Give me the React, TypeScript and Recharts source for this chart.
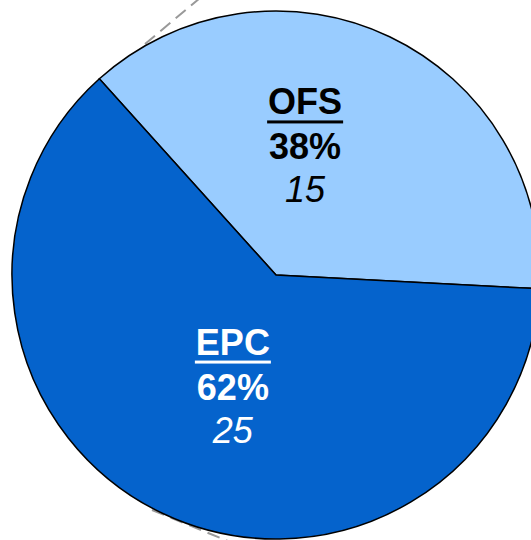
import { PieChart, Pie, Cell } from "recharts";

const segments = ["OFS", "EPC"];
const counts = [15, 25];
const shares = ["38%", "62%"];

const fills = ["#99CCFF", "#0563CC"];
const textColors = ["#000000", "#FFFFFF"];

const data = segments.map((name, i) => ({
  name,
  value: counts[i],
  share: shares[i],
}));

const CX = 276;
const CY = 275;
const R = 264;

// small nudges so labels sit where the original placed them
const nudge: Record<string, [number, number]> = {
  OFS: [-26, 0],
  EPC: [12, 9],
};

function SliceLabel(props: any) {
  const { cx, cy, midAngle, outerRadius, index } = props;
  const d = data[index];
  const rad = (Math.PI / 180) * midAngle;
  const r = outerRadius * 0.485;
  const [nx, ny] = nudge[d.name] ?? [0, 0];
  const x = cx + r * Math.cos(rad) + nx;
  const y = cy - r * Math.sin(rad) + ny;
  const color = textColors[index];
  return (
    <g>
      <text
        x={x}
        y={y}
        textAnchor="middle"
        fill={color}
        fontFamily="'Liberation Sans', Arial, sans-serif"
        fontSize={36}
      >
        <tspan x={x} dy={-45} fontWeight="bold">
          {d.name}
        </tspan>
        <tspan x={x} dy={45} fontWeight="bold">
          {d.share}
        </tspan>
        <tspan x={x} dy={43} fontStyle="italic">
          {d.value}
        </tspan>
      </text>
      <rect x={x - 38} y={y - 39} width={76} height={3} fill={color} />
    </g>
  );
}

export default function App() {
  return (
    <div
      style={{
        position: "fixed",
        left: 0,
        top: 0,
        width: 531,
        height: 540,
        overflow: "hidden",
        background: "#fff",
      }}
    >
      <svg
        width={531}
        height={540}
        style={{ position: "absolute", left: 0, top: 0 }}
      >
        <line
          x1={145}
          y1={44}
          x2={206}
          y2={-7}
          stroke="#999"
          strokeWidth={2}
          strokeDasharray="13 7"
        />
        <line
          x1={152}
          y1={510}
          x2={240}
          y2={546}
          stroke="#999"
          strokeWidth={2}
          strokeDasharray="13 7"
        />
      </svg>
      <div style={{ position: "absolute", left: 0, top: 0 }}>
        <PieChart width={531} height={540} margin={{ top: 0, right: 0, bottom: 0, left: 0 }}>
          <Pie
            data={data}
            dataKey="value"
            nameKey="name"
            cx={CX}
            cy={CY}
            outerRadius={R}
            startAngle={132}
            endAngle={-228}
            stroke="#000"
            strokeWidth={1.5}
            labelLine={false}
            label={SliceLabel}
            isAnimationActive={false}
          >
            {data.map((d, i) => (
              <Cell key={d.name} fill={fills[i]} />
            ))}
          </Pie>
        </PieChart>
      </div>
    </div>
  );
}
